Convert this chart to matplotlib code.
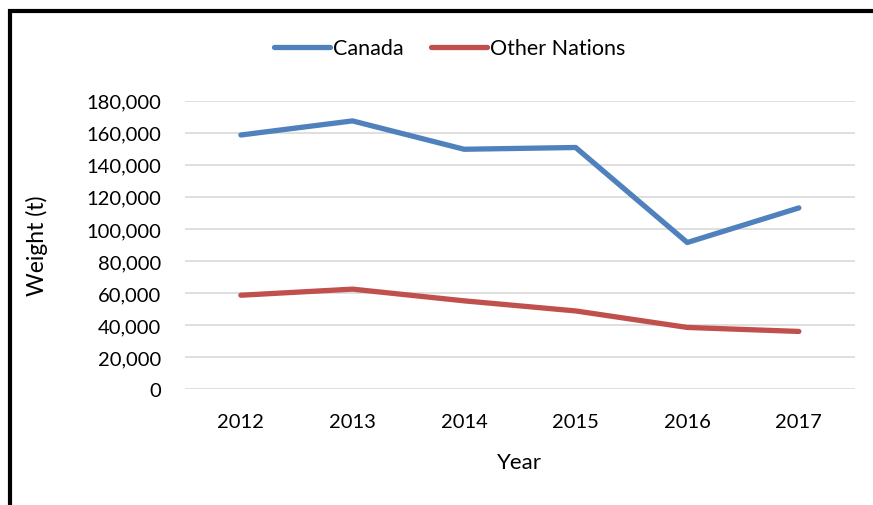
import numpy as np
import matplotlib.pyplot as plt
from matplotlib.patches import Rectangle
from matplotlib.ticker import FuncFormatter

plt.rcParams['font.family'] = ['Lato', 'DejaVu Sans']

years = ["2012", "2013", "2014", "2015", "2016", "2017"]
canada = [158600, 167400, 149700, 150800, 91500, 113100]
other_nations = [58600, 62400, 55100, 48800, 38500, 36000]

fig = plt.figure(figsize=(8.73, 5.06), dpi=100)
ax = fig.add_axes([0.212, 0.229, 0.767, 0.570])

x = np.arange(len(years))
ax.plot(x, canada, color="#4F81BD", lw=3.8, solid_capstyle="round", label="Canada")
ax.plot(x, other_nations, color="#C0504D", lw=3.8, solid_capstyle="round", label="Other Nations")

ax.set_xlim(-0.5, len(years) - 0.5)
ax.set_ylim(0, 180000)
ax.set_yticks(np.arange(0, 180001, 20000))
ax.yaxis.set_major_formatter(FuncFormatter(lambda v, p: f"{int(v):,}"))
ax.set_xticks(x)
ax.set_xticklabels(years)
ax.grid(axis="y", color="#D9D9D9", lw=1.2)
ax.set_axisbelow(True)
for s in ax.spines.values():
    s.set_visible(False)
ax.tick_params(length=0, labelsize=14.5)
ax.tick_params(axis="x", pad=17)
ax.tick_params(axis="y", pad=17)

ax.set_xlabel("Year", fontsize=16)
ax.set_ylabel("Weight (t)", fontsize=16.5)
ax.xaxis.set_label_coords(0.5, -0.218)
ax.yaxis.set_label_coords(-0.205, 0.5)

ax.legend(loc="center", bbox_to_anchor=(0.515, 0.903), bbox_transform=fig.transFigure,
          ncol=2, frameon=False, fontsize=15.5, handlelength=2.6, handletextpad=0.12,
          columnspacing=1.3)

# black frame on the left and top
fig.patches.append(Rectangle((0.0115, -0.1), 1.2, 1.076, transform=fig.transFigure,
                             fill=False, edgecolor="black", lw=3, figure=fig))

fig.savefig("out.png", dpi=100)
